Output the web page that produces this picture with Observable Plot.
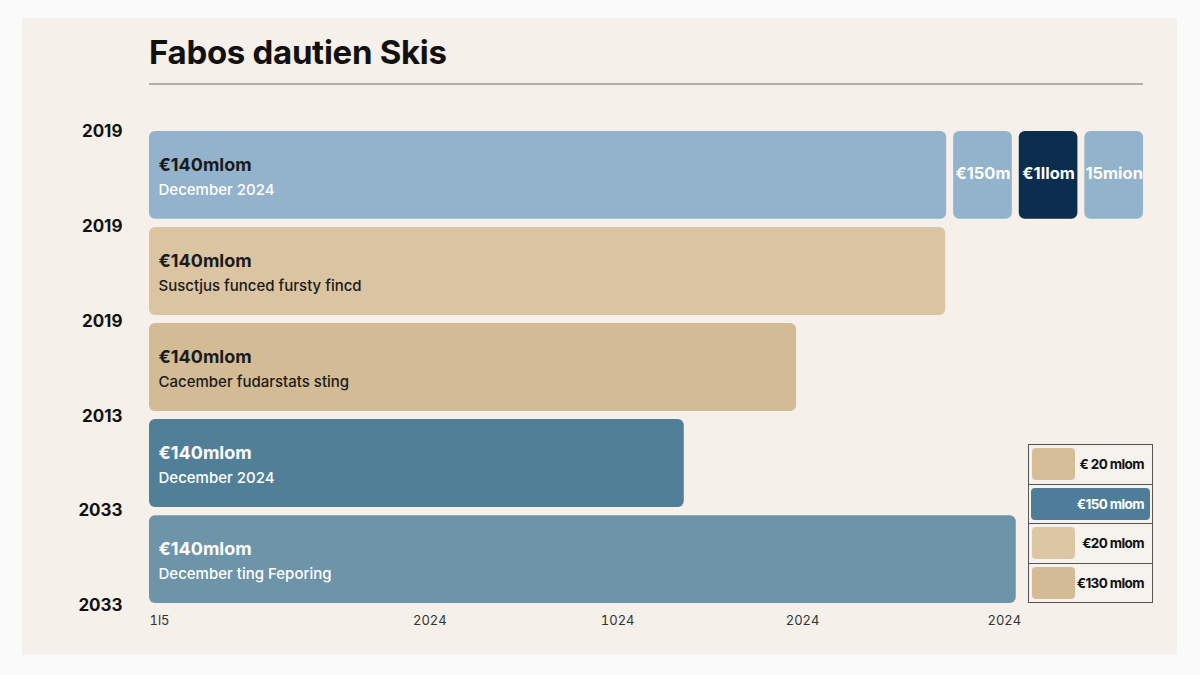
<!DOCTYPE html>
<html>
<head>
<meta charset="utf-8">
<script src="https://cdn.jsdelivr.net/npm/d3@7"></script>
<script src="https://cdn.jsdelivr.net/npm/@observablehq/plot@0.6"></script>
<style>
  html, body { margin: 0; padding: 0; background: #fafafa; width: 1200px; height: 675px; overflow: hidden; font-family: Inter, "Noto Sans", sans-serif; }
  #card { position: absolute; left: 22px; top: 18px; width: 1155px; height: 637px; background: #f5f0e9; }
  #title { position: absolute; left: 149px; top: 32px; margin: 0; font-size: 33px; font-weight: 700; letter-spacing: -0.3px; color: #111; line-height: 40px; }
  #rule { position: absolute; left: 149px; top: 83px; width: 994px; height: 2px; background: #b3aea8; }
  #chart { position: absolute; left: 0; top: 100px; }
  #legend { position: absolute; left: 1028px; top: 444px; width: 123px; border: 1px solid #555; background: #f6f3ef; }
  .lrow { position: relative; height: 38.5px; border-bottom: 1px solid #555; }
  .lrow:last-child { border-bottom: none; }
  .sw { position: absolute; left: 3px; top: 3px; width: 43px; height: 32px; border-radius: 4px; }
  .lab { position: absolute; right: 8px; top: 0; line-height: 38px; font-size: 13.5px; font-weight: 700; color: #111; letter-spacing: -0.6px; }
  .full { position: absolute; left: 2px; right: 2px; top: 3px; height: 32px; border-radius: 4px; }
</style>
</head>
<body>
<div id="card"></div>
<h1 id="title">Fabos dautien Skis</h1>
<div id="rule"></div>
<div id="chart"></div>
<div id="legend"></div>
<script>
// ---- data ----
const rowValues = [80.2, 80.1, 65.1, 53.8, 87.2];
const rowAmounts = ["€140mlom", "€140mlom", "€140mlom", "€140mlom", "€140mlom"];
const rowNotes = ["December 2024", "Susctjus funced fursty fincd", "Cacember fudarstats sting", "December 2024", "December ting Feporing"];
const yearLabels = ["2019", "2019", "2019", "2013", "2033", "2033"];
const segStarts = [80.9, 87.5, 94.1];
const segEnds = [86.8, 93.4, 100];
const segLabels = ["€150m", "€1llom", "15mion"];
const xTicks = [0, 28.2, 47.1, 65.7, 86.0];
const xTickLabels = ["1l5", "2024", "1024", "2024", "2024"];
const legendLabels = ["€ 20 mlom", "€150 mlom", "€20 mlom", "€130 mlom"];

// ---- styles ----
const rowColors = ["#93b2cb", "#dac4a2", "#d3bb96", "#527f98", "#6d94a9"];
const amountColors = ["#1a1a1a", "#1a1a1a", "#1a1a1a", "#ffffff", "#ffffff"];
const noteColors = ["#ffffff", "#1a1a1a", "#1a1a1a", "#ffffff", "#ffffff"];
const segColors = ["#93b2cb", "#0b2e4f", "#93b2cb"];
const legendColors = ["#d5bd98", "#4d7d99", "#dcc6a4", "#d3bb96"];
const barH = 0.915;

const rows = rowValues.map((v, i) => ({i, v, amount: rowAmounts[i], note: rowNotes[i]}));
const segs = segStarts.map((s, k) => ({s, e: segEnds[k], label: segLabels[k], k}));
const years = yearLabels.map((t, i) => ({t, p: i * 0.988}));

const chart = Plot.plot({
  width: 1200,
  height: 545,
  marginLeft: 149,
  marginRight: 57,
  marginTop: 31,
  marginBottom: 42,
  style: {background: "transparent", fontFamily: "Inter, 'Noto Sans', sans-serif"},
  x: {domain: [0, 100]},
  y: {domain: [0, 4 + barH], reverse: true, axis: null},
  marks: [
    Plot.rectX(rows, {x1: 0, x2: "v", y1: "i", y2: d => d.i + barH, fill: (d) => rowColors[d.i], rx: 6}),
    Plot.rectX(segs, {x1: "s", x2: "e", y1: 0, y2: barH, fill: d => segColors[d.k], rx: 6}),
    Plot.text(segs, {x: d => (d.s + d.e) / 2, y: barH / 2, text: "label", fill: "#fff", fontSize: 16.5, fontWeight: 700, dy: -2, style: {letterSpacing: "-0.7px"}}),
    Plot.text(rows, {x: 0, y: "i", dx: 9, dy: 34, text: "amount", textAnchor: "start", fill: d => amountColors[d.i], fontSize: 18, fontWeight: 700, style: {letterSpacing: "-0.8px"}}),
    Plot.text(rows, {x: 0, y: "i", dx: 9, dy: 59, text: "note", textAnchor: "start", fill: d => noteColors[d.i], fontSize: 15, fontWeight: 500, style: {letterSpacing: "-0.3px"}}),
    Plot.text(years, {x: 0, y: "p", dx: -27, text: "t", textAnchor: "end", fill: "#111", fontSize: 17, fontWeight: 700, style: {letterSpacing: "-0.3px"}}),
    Plot.axisX(xTicks.slice(0, 1), {tickSize: 0, tickPadding: 12, textAnchor: "start", tickFormat: () => xTickLabels[0], fontSize: 13, fill: "#333", label: null}),
    Plot.axisX(xTicks.slice(1), {tickSize: 0, tickPadding: 12, tickFormat: d => xTickLabels[xTicks.indexOf(d)], fontSize: 13, fill: "#333", label: null})
  ]
});
document.getElementById("chart").appendChild(chart);

const legend = document.getElementById("legend");
legendLabels.forEach((t, i) => {
  const row = document.createElement("div");
  row.className = "lrow";
  if (i === 1) {
    row.innerHTML = `<div class="full" style="background:${legendColors[i]}"></div><span class="lab" style="color:#fff">${t}</span>`;
  } else {
    row.innerHTML = `<div class="sw" style="background:${legendColors[i]}"></div><span class="lab">${t}</span>`;
  }
  legend.appendChild(row);
});
</script>
</body>
</html>
